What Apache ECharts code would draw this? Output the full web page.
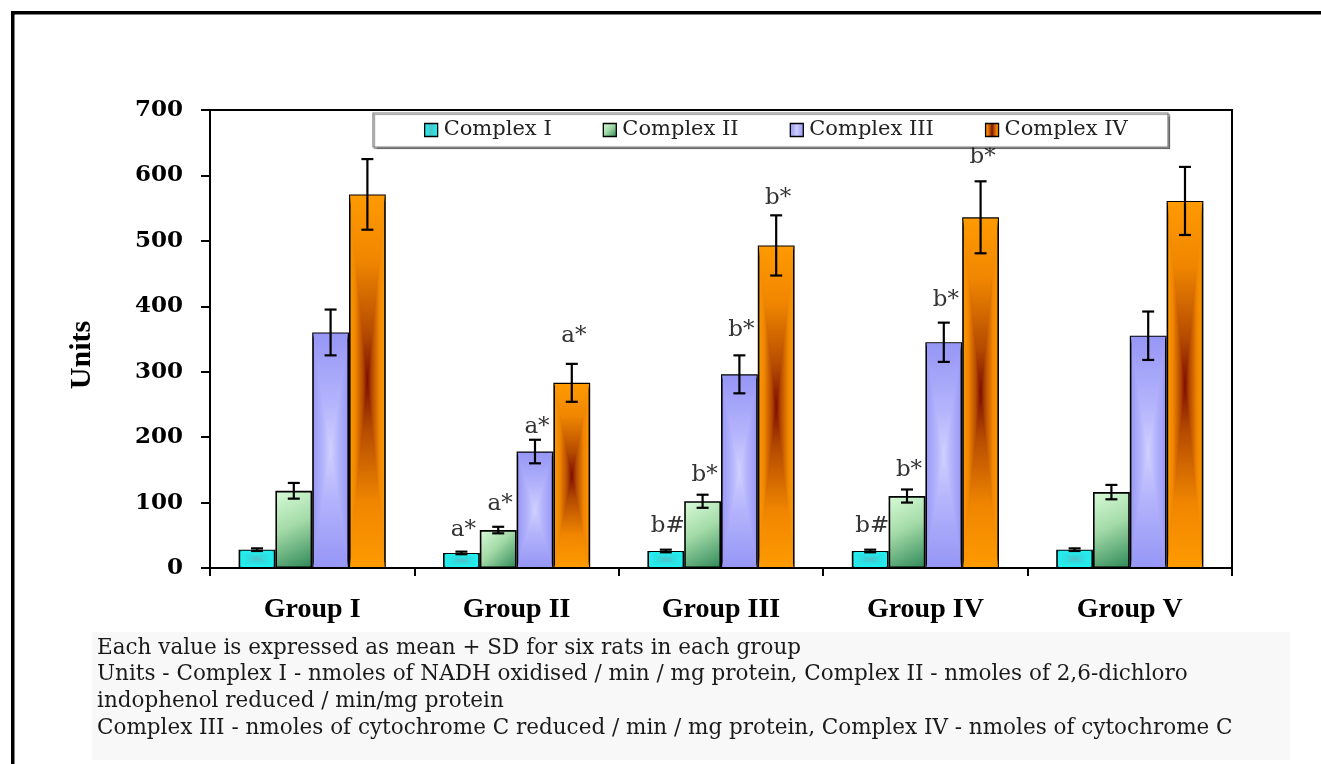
<!DOCTYPE html>
<html>
<head>
<meta charset="utf-8">
<script src="https://cdn.jsdelivr.net/npm/echarts@6/dist/echarts.min.js"></script>
<style>
html,body{margin:0;padding:0;background:#fff;}
#chart{width:1321px;height:764px;}
</style>
</head>
<body>
<div id="chart"></div>
<script>
// ---- data ----
const categories = ['Group I', 'Group II', 'Group III', 'Group IV', 'Group V'];
const seriesNames = ['Complex I', 'Complex II', 'Complex III', 'Complex IV'];
const complexI   = [28, 23, 26, 26, 28];
const complexII  = [118, 58, 102, 110, 116];
const complexIII = [360, 178, 296, 345, 355];
const complexIV  = [571, 283, 493, 536, 561];
const sdI   = [2, 2, 2, 2, 2];
const sdII  = [12, 5, 10, 10, 11];
const sdIII = [35, 18, 29, 30, 37];
const sdIV  = [54, 29, 46, 55, 52];
const marksI   = ['', 'a*', 'b#', 'b#', ''];
const marksII  = ['', 'a*', 'b*', 'b*', ''];
const marksIII = ['', 'a*', 'b*', 'b*', ''];
const marksIV  = ['', 'a*', 'b*', 'b*', ''];
const markAtI   = [null, 58, 64, 64, null];
const markAtII  = [null, 98, 142, 150, null];
const markAtIII = [null, 215, 364, 410, null];
const markAtIV  = [null, 355, 565, 628, null];
const yTicks = [0, 100, 200, 300, 400, 500, 600, 700];
const footerLines = [
  'Each value is expressed as mean + SD for six rats in each group',
  'Units - Complex I - nmoles of NADH oxidised / min / mg protein, Complex II - nmoles of 2,6-dichloro',
  'indophenol reduced / min/mg protein',
  'Complex III - nmoles of cytochrome C reduced / min / mg protein, Complex IV - nmoles of cytochrome C'
];

// ---- styles ----
const G = echarts.graphic;
// path ("from centre") gradient stops: edge -> centre
const pathStops = [
  [{offset: 0, color: '#1ef4f4'}, {offset: 0.6, color: '#30dcdf'}, {offset: 1, color: '#52c0c6'}],
  null,
  [{offset: 0, color: '#9696f6'}, {offset: 0.6, color: '#b4b4fc'}, {offset: 1, color: '#d0d0ff'}],
  [{offset: 0, color: '#ff9a00'}, {offset: 0.35, color: '#f08600'}, {offset: 0.75, color: '#b44a00'}, {offset: 1, color: '#7e0e00'}]
];
function mirror(stops) {
  const out = [];
  stops.forEach(s => out.push({offset: s.offset / 2, color: s.color}));
  for (let i = stops.length - 2; i >= 0; i--) out.push({offset: 1 - stops[i].offset / 2, color: stops[i].color});
  return out;
}
const fills = [
  new G.LinearGradient(0, 0, 1, 0, mirror(pathStops[0])),
  new G.LinearGradient(0, 0, 1, 1, [
    {offset: 0, color: '#d8fbd8'}, {offset: 0.45, color: '#a4dba8'}, {offset: 1, color: '#2e8858'}]),
  new G.LinearGradient(0, 0, 1, 0, mirror(pathStops[2])),
  new G.LinearGradient(0, 0, 1, 0, mirror(pathStops[3]))
];
const values = [complexI, complexII, complexIII, complexIV];
const sds = [sdI, sdII, sdIII, sdIV];
const marks = [marksI, marksII, marksIII, marksIV];
const markAts = [markAtI, markAtII, markAtIII, markAtIV];
const GAP = 0.28;

function barGeom(api, k, cat, v) {
  const band = api.size([1, 0])[0];
  const bw = band * (1 - GAP) / 4;
  const c = api.coord([cat, v]);
  const b = api.coord([cat, 0]);
  const cx = c[0] - 2 * bw + k * bw + bw / 2;
  return {bw: bw, cx: cx, x0: cx - bw / 2, x1: cx + bw / 2, y0: c[1], y1: b[1]};
}

const series = [];
values.forEach((vals, k) => {
  series.push({
    name: seriesNames[k],
    type: 'bar',
    data: vals,
    barGap: '0%',
    barCategoryGap: (GAP * 100) + '%',
    itemStyle: {color: fills[k], borderColor: '#000', borderWidth: 1.6},
    z: 2
  });
});
// path-gradient shading overlays (top and bottom triangles of each bar)
values.forEach((vals, k) => {
  if (!pathStops[k]) return;
  series.push({
    name: 'shade' + k,
    type: 'custom',
    z: 3,
    silent: true,
    data: vals.map((v, i) => [i, v]),
    renderItem: function (params, api) {
      const g = barGeom(api, k, api.value(0), api.value(1));
      const ins = 1.1;
      const x0 = g.x0 + ins, x1 = g.x1 - ins, y0 = g.y0 + ins, y1 = g.y1 - ins;
      const cy = (y0 + y1) / 2, cx = (x0 + x1) / 2;
      const st = pathStops[k];
      return {type: 'group', children: [
        {type: 'polygon', shape: {points: [[x0, y0], [x1, y0], [cx, cy]]},
         style: {fill: new G.LinearGradient(0, 0, 0, 1, st)}},
        {type: 'polygon', shape: {points: [[x0, y1], [x1, y1], [cx, cy]]},
         style: {fill: new G.LinearGradient(0, 1, 0, 0, st)}}
      ]};
    }
  });
});
// error bars and significance marks
values.forEach((vals, k) => {
  series.push({
    name: 'err' + k,
    type: 'custom',
    z: 4,
    data: vals.map((v, i) => [i, v, sds[k][i], markAts[k][i] == null ? NaN : markAts[k][i]]),
    renderItem: function (params, api) {
      const cat = api.value(0), v = api.value(1), sd = api.value(2), mAt = api.value(3);
      const g = barGeom(api, k, cat, v);
      const top = api.coord([cat, v + sd]);
      const bot = api.coord([cat, v - sd]);
      const x = g.cx;
      const cap = 6;
      const st = {stroke: '#000', lineWidth: 2.2};
      const children = [
        {type: 'line', shape: {x1: x, y1: top[1], x2: x, y2: bot[1]}, style: st},
        {type: 'line', shape: {x1: x - cap, y1: top[1], x2: x + cap, y2: top[1]}, style: st},
        {type: 'line', shape: {x1: x - cap, y1: bot[1], x2: x + cap, y2: bot[1]}, style: st}
      ];
      const txt = marks[k][params.dataIndex];
      if (txt && !isNaN(mAt)) {
        const p = api.coord([cat, mAt]);
        children.push({
          type: 'text',
          style: {
            text: txt, x: x + 2, y: p[1], align: 'center', verticalAlign: 'middle',
            font: '23px "DejaVu Serif"', fill: '#333'
          }
        });
      }
      return {type: 'group', children: children};
    }
  });
});

const graphics = [
  // outer frame
  {type: 'rect', shape: {x: 11, y: 11, width: 1310, height: 3.5}, style: {fill: '#000'}, z: 10},
  {type: 'rect', shape: {x: 11, y: 11, width: 3.5, height: 753}, style: {fill: '#000'}, z: 10},
  // footer background
  {type: 'rect', shape: {x: 92, y: 632, width: 1198, height: 128}, style: {fill: '#f8f8f8'}, z: 0},
  // legend box
  {type: 'rect', shape: {x: 373, y: 113, width: 795, height: 34},
   style: {fill: '#fff', stroke: '#7a7a7a', lineWidth: 1.2,
           shadowColor: 'rgba(0,0,0,0.4)', shadowOffsetX: 1.5, shadowOffsetY: 1.5, shadowBlur: 1}, z: 5}
];
footerLines.forEach((t, i) => {
  graphics.push({
    type: 'text', z: 1,
    style: {text: t, x: 97, y: 648 + i * 26.7, verticalAlign: 'middle',
            font: '21.5px "DejaVu Serif"', fill: '#1a1a1a'}
  });
});

const chart = echarts.init(document.getElementById('chart'), null, {renderer: 'canvas'});
chart.setOption({
  animation: false,
  backgroundColor: '#fff',
  grid: {left: 210, right: 89, top: 110, bottom: 196, show: true, borderColor: '#000', borderWidth: 2,
         backgroundColor: 'transparent'},
  legend: {
    data: seriesNames, left: 424, top: 118, padding: 0, itemGap: 51,
    itemWidth: 13, itemHeight: 13, icon: 'rect', z: 6,
    itemStyle: {borderColor: '#000', borderWidth: 1.3},
    textStyle: {fontFamily: 'DejaVu Serif', fontSize: 21, color: '#222', lineHeight: 24, padding: [0, 0, 0, 1]}
  },
  xAxis: {
    type: 'category', data: categories,
    axisLine: {lineStyle: {color: '#000', width: 2}},
    axisTick: {show: true, length: 8, lineStyle: {color: '#000', width: 2}},
    axisLabel: {interval: 0, margin: 28, fontFamily: 'Liberation Serif', fontWeight: 'bold',
                fontSize: 28, color: '#000'}
  },
  yAxis: {
    type: 'value', min: yTicks[0], max: yTicks[yTicks.length - 1], interval: yTicks[1] - yTicks[0],
    name: 'Units', nameLocation: 'middle', nameRotate: 90, nameGap: 113,
    nameTextStyle: {fontFamily: 'Liberation Serif', fontWeight: 'bold', fontSize: 30, color: '#000',
                    padding: [0, 32, 0, 0]},
    axisLine: {show: true, lineStyle: {color: '#000', width: 2}},
    axisTick: {show: true, length: 9, lineStyle: {color: '#000', width: 2}},
    splitLine: {show: false},
    axisLabel: {margin: 27, fontFamily: 'DejaVu Serif', fontWeight: 'bold', fontSize: 23, color: '#000'}
  },
  graphic: graphics,
  series: series
});
</script>
</body>
</html>
